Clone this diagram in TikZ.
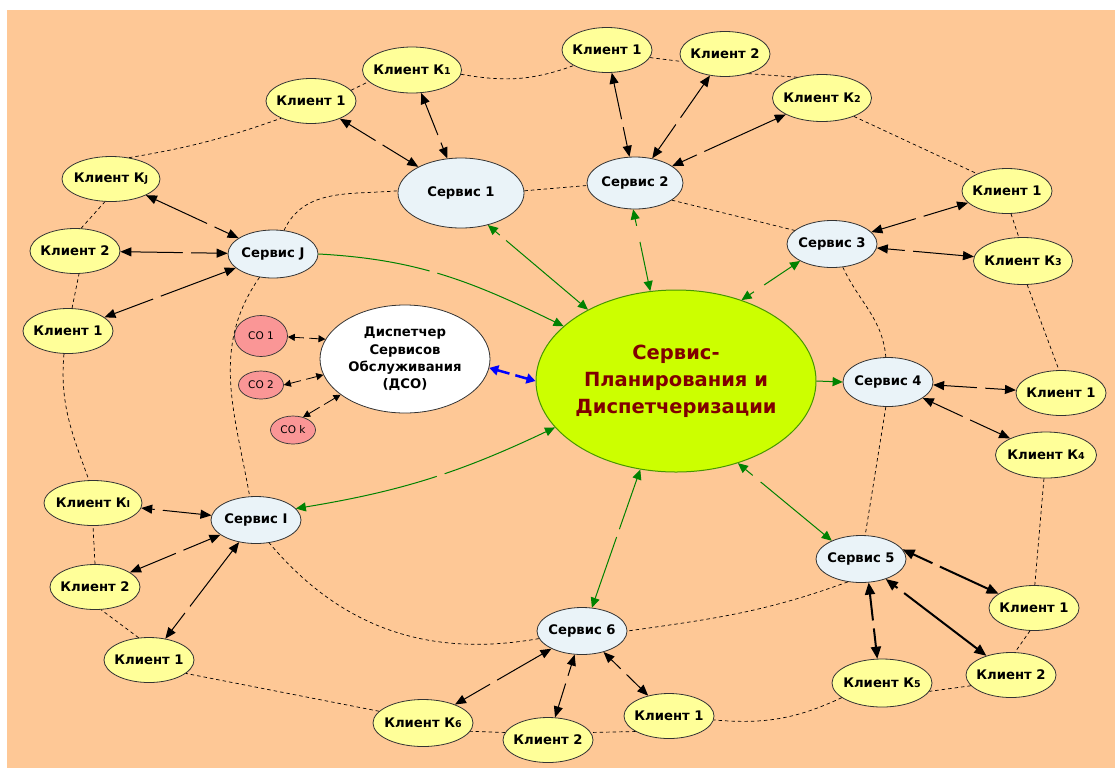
\documentclass[tikz,border=0pt]{standalone}
\usepackage{fontspec}
\setmainfont{DejaVu Sans}
\usetikzlibrary{shapes.geometric,arrows.meta}

\definecolor{bgorange}{RGB}{254,200,150}
\definecolor{cliyellow}{RGB}{255,255,153}
\definecolor{srvblue}{RGB}{234,243,248}
\definecolor{mainlime}{RGB}{204,255,0}
\definecolor{mainedge}{RGB}{70,150,0}
\definecolor{darkred}{RGB}{128,0,0}
\definecolor{copink}{RGB}{250,150,150}
\definecolor{linkgreen}{RGB}{0,130,0}

\newcommand{\kidx}[1]{{\fontsize{9.5}{10}\selectfont #1}}

\begin{document}
\begin{tikzpicture}[x=1pt,y=-1pt,
  cli/.style={ellipse,draw=black!80,fill=cliyellow,line width=0.8pt,inner ysep=0pt,inner xsep=-5pt,
    minimum width=90pt,minimum height=45pt,font=\fontsize{13.2}{15}\selectfont\bfseries},
  srv/.style={cli,fill=srvblue,minimum height=47pt},
  co/.style={ellipse,draw=black!80,fill=copink,line width=0.7pt,inner sep=0pt,
    minimum width=45pt,minimum height=28pt,font=\fontsize{10.5}{12}\selectfont},
  ring/.style={dash pattern=on 3.5pt off 3pt,line width=0.7pt},
  arr/.style={<->,>={Triangle[length=11pt,width=9pt]},line width=1pt},
  thk/.style={arr,>={Triangle[length=12pt,width=10pt]},line width=2pt},
  sarr/.style={<->,>={Triangle[length=7pt,width=7pt]},line width=0.8pt},
  garr/.style={->,>={Triangle[length=10pt,width=9pt]},color=linkgreen,line width=1pt},
  gbi/.style={garr,<->},
  barr/.style={<->,>={Triangle[length=9pt,width=10pt]},color=blue,line width=2.5pt},
  gap/.style={fill=bgorange,inner sep=0pt,minimum width=8pt,minimum height=6pt,sloped}
]
\useasboundingbox (0,0) rectangle (1115,769);
\fill[bgorange] (7,10) rectangle (1115,768);

% centre
\node[ellipse,draw=mainedge,fill=mainlime,line width=1pt,inner ysep=0pt,inner xsep=-40pt,
  minimum width=280pt,minimum height=182pt,align=center,text=darkred,
  font=\fontsize{19.5}{27}\selectfont\bfseries] (main) at (676,381)
  {Сервис-\\Планирования и\\Диспетчеризации};
\node[ellipse,draw=black!80,fill=white,line width=0.8pt,inner sep=0pt,
  minimum width=170pt,minimum height=108pt,align=center,
  font=\fontsize{13.2}{17.4}\selectfont\bfseries] (dso) at (405,359)
  {Диспетчер\\Сервисов\\Обслуживания\\(ДСО)};
\node[co,minimum width=53pt,minimum height=41pt] (co1) at (261,336) {СО 1};
\node[co] (co2) at (261,385) {СО 2};
\node[co] (cok) at (293,430) {СО k};

% services
\node[srv,minimum width=126pt,minimum height=70pt] (s1) at (461,193) {Сервис 1};
\node[srv,minimum width=96pt,minimum height=52pt] (s2) at (635,183) {Сервис 2};
\node[srv] (s3) at (832,244) {Сервис 3};
\node[srv,minimum height=49pt] (s4) at (888,382) {Сервис 4};
\node[srv] (s5) at (861,559) {Сервис 5};
\node[srv] (s6) at (582,631) {Сервис 6};
\node[srv] (sI) at (256,520) {Сервис I};
\node[srv,minimum height=48pt] (sJ) at (273,254) {Сервис J};

% clients
\node[cli] (c1a) at (311,101) {Клиент 1};
\node[cli,minimum width=99pt,minimum height=46pt] (c1k) at (412,70) {Клиент К\kidx{1}};
\node[cli] (c2a) at (607,50) {Клиент 1};
\node[cli] (c2b) at (725,54) {Клиент 2};
\node[cli,minimum width=99pt,minimum height=47pt] (c2k) at (822,98) {Клиент К\kidx{2}};
\node[cli] (c3a) at (1007,191) {Клиент 1};
\node[cli,minimum width=99pt,minimum height=47pt] (c3k) at (1023,261) {Клиент К\kidx{3}};
\node[cli] (c4a) at (1061,393) {Клиент 1};
\node[cli,minimum width=101pt,minimum height=46pt] (c4k) at (1046,455) {Клиент К\kidx{4}};
\node[cli] (c5a) at (1034,608) {Клиент 1};
\node[cli] (c5b) at (1011,675) {Клиент 2};
\node[cli,minimum width=100pt,minimum height=48pt] (c5k) at (882,683) {Клиент К\kidx{5}};
\node[cli] (c6a) at (669,716) {Клиент 1};
\node[cli] (c6b) at (548,740) {Клиент 2};
\node[cli,minimum width=100pt,minimum height=47pt] (c6k) at (423,723) {Клиент К\kidx{6}};
\node[cli] (cIa) at (149,660) {Клиент 1};
\node[cli] (cIb) at (95,587) {Клиент 2};
\node[cli,minimum width=98pt] (cIk) at (93,503) {Клиент К\kidx{I}};
\node[cli] (cJa) at (68,331) {Клиент 1};
\node[cli] (cJb) at (75,251) {Клиент 2};
\node[cli,minimum width=98pt] (cJk) at (111,179) {Клиент К\kidx{J}};

% outer ring
\draw[ring] (cJk.50) to[bend right=5] (c1a.210);
\draw[ring] (c1a.15) -- (c1k.195);
\draw[ring] (c1k.-5) to[out=-10,in=200] (c2a.205);
\draw[ring] (c2a.-10) -- (c2b.190);
\draw[ring] (c2b.-40) -- (c2k.140);
\draw[ring] (c2k.-30) -- (c3a.150);
\draw[ring] (c3a.-80) -- (c3k.100);
\draw[ring] (c3k.-80) -- (c4a.95);
\draw[ring] (c4k.-95) -- (c5a.88);
\draw[ring] (c5a.-100) -- (c5b.80);
\draw[ring] (c5b.195) -- (c5k.-10);
\draw[ring] (c5k.200) to[out=205,in=-5] (c6a.-5);
\draw[ring] (c6a.205) -- (c6b.10);
\draw[ring] (c6b.170) -- (c6k.-10);
\draw[ring] (c6k.165) -- (cIa.-20);
\draw[ring] (cIa.115) -- (cIb.-75);
\draw[ring] (cIb.90) -- (cIk.-90);
\draw[ring] (cJa.-100) to[out=-95,in=110] (cIk.100);
\draw[ring] (cJa.80) -- (cJb.-80);
\draw[ring] (cJb.75) -- (cJk.-105);

% inner ring
\draw[ring] (sJ.65) to[out=65,in=185] (s1.178);
\draw[ring] (s1.2) -- (s2.183);
\draw[ring] (s2.-25) -- (s3.160);
\draw[ring] (s3.-65) to[out=-65,in=95] (s4.95);
\draw[ring] (s4.-95) -- (s5.80);
\draw[ring] (s5.240) to[out=200,in=8] (s6.east);
\draw[ring] (s6.190) to[out=190,in=-50] (sI.-60);
\draw[ring] (sJ.240) to[out=235,in=100] (sI.105);

% centre links
\draw[garr] (sJ.east) to[out=-3,in=154] node[gap,pos=0.45]{} (main.154);
\draw[gbi] (s1.-50) -- node[gap,pos=0.15]{} (main.141);
\draw[gbi] (s2.-94) -- node[gap,pos=0.3,minimum width=16pt]{} (main.106);
\draw[gbi] (s3.208) -- node[gap,pos=0.7,minimum width=12pt]{} (main.51);
\draw[garr] (main.east) -- (s4.west);
\draw[gbi] (main.-53) -- node[gap,pos=0.2,minimum width=10pt]{} (s5.148);
\draw[gbi] (main.-112) -- node[gap,pos=0.46]{} (s6.67);
\draw[gbi] (sI.16) to[bend right=8] node[gap,pos=0.55]{} (main.201);
\draw[barr] (dso.-6) -- node[gap,minimum width=6pt,minimum height=8pt]{} (main.west);

% dispatcher links
\draw[sarr] (dso.166) -- node[gap,minimum width=5pt]{} (co1.-2);
\draw[sarr] (dso.191) -- node[gap,minimum width=5pt]{} (co2.east);
\draw[sarr] (dso.209) -- node[gap,minimum width=5pt]{} (cok.52);

% client links
\draw[arr] (sJ) -- node[gap,pos=0.38]{} (cJb);
\draw[arr] (sJ) -- node[gap,pos=0.3]{} (cJk);
\draw[arr] (sJ) -- node[gap,pos=0.6]{} (cJa);
\draw[arr] (s1) -- node[gap,pos=0.5]{} (c1a);
\draw[arr] (s1) -- node[gap,pos=0.3]{} (c1k);
\draw[arr] (s2) -- node[gap,pos=0.4]{} (c2a);
\draw[arr] (s2) -- node[gap,pos=0.45]{} (c2b);
\draw[arr] (s2) -- node[gap,pos=0.25]{} (c2k);
\draw[arr] (s3) -- node[gap,pos=0.5]{} (c3a);
\draw[arr] (s3) -- node[gap,pos=0.33]{} (c3k);
\draw[arr] (s4) -- node[gap,pos=0.58]{} (c4a);
\draw[arr] (s4) -- node[gap,pos=0.5]{} (c4k);
\draw[thk] (s5.13) -- node[gap,pos=0.35]{} (c5a.158);
\draw[thk] (s5.-39) -- node[gap,pos=0.15]{} (c5b.142);
\draw[thk] (s5.-72) -- node[gap,pos=0.55]{} (c5k.101);
\draw[arr] (s6) -- node[gap,pos=0.6]{} (c6k);
\draw[arr] (s6) -- node[gap,pos=0.4]{} (c6b);
\draw[arr] (s6) -- node[gap,pos=0.45]{} (c6a);
\draw[arr] (sI) -- node[gap,pos=0.75]{} (cIk);
\draw[arr] (sI) -- node[gap,pos=0.45]{} (cIb);
\draw[arr] (sI) -- node[gap,pos=0.7]{} (cIa);
\end{tikzpicture}
\end{document}
